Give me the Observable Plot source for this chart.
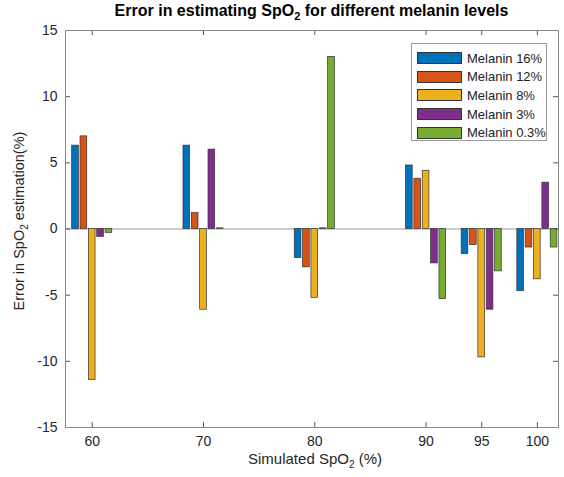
<!DOCTYPE html>
<html><head><meta charset="utf-8">
<script src="https://cdn.jsdelivr.net/npm/d3@7"></script>
<script src="https://cdn.jsdelivr.net/npm/@observablehq/plot@0.6"></script>
<style>
body{margin:0;background:#fff;font-family:"Liberation Sans",Arial,sans-serif;}
#wrap{position:relative;width:564px;height:477px;overflow:hidden;}
#title{height:24px;width:493px;margin-left:65px;text-align:center;font-weight:bold;font-size:16px;line-height:22px;color:#000;white-space:nowrap;}
#title sub{font-size:11px;line-height:0;vertical-align:-4px;}
#chart svg{overflow:visible;}
#legend{position:absolute;left:411px;top:43px;width:136px;height:98px;border:1px solid #999;background:#fff;box-sizing:border-box;padding-top:5px;}
.li{display:flex;align-items:center;height:18.6px;}
.sw{width:45px;height:12px;margin-left:5px;margin-right:5px;box-sizing:border-box;border:1px solid #333;}
.lt{font-size:13px;color:#222;}
</style></head>
<body><div id="wrap">
<div id="title">Error in estimating SpO<sub>2</sub> for different melanin levels</div>
<div id="chart"></div>
<div id="legend"></div>
</div>
<script>
const spo2 = [60, 70, 80, 90, 95, 100];
const seriesNames = ["Melanin 16%", "Melanin 12%", "Melanin 8%", "Melanin 3%", "Melanin 0.3%"];
const melanin16 = [6.3, 6.3, -2.2, 4.8, -1.9, -4.7];
const melanin12 = [7.0, 1.2, -2.9, 3.8, -1.2, -1.4];
const melanin8 = [-11.4, -6.1, -5.2, 4.4, -9.7, -3.8];
const melanin3 = [-0.6, 6.0, 0.05, -2.6, -6.1, 3.5];
const melanin03 = [-0.3, 0.05, 13.0, -5.3, -3.2, -1.4];
const colors = ["#0072BD", "#D95319", "#EDB120", "#7E2F8E", "#77AC30"];
const xTicks = [60, 70, 80, 90, 95, 100];
const yTicks = [-15, -10, -5, 0, 5, 10, 15];

const allSeries = [melanin16, melanin12, melanin8, melanin3, melanin03];
const rows = [];
allSeries.forEach((vals, k) => vals.forEach((v, i) => rows.push({spo2: spo2[i], k, series: seriesNames[k], value: v})));

const groupStep = 0.75, barHalf = 0.3;
const fmt = d => String(d);

const plot = Plot.plot({
  width: 564,
  height: 453,
  marginTop: 6,
  marginBottom: 50,
  marginLeft: 65,
  marginRight: 6,
  style: {fontFamily: "'Liberation Sans', Arial, sans-serif", fontSize: "14px", color: "#262626", background: "#fff", overflow: "visible"},
  x: {domain: [57.6, 101.9], ticks: xTicks},
  y: {domain: [-15, 15], ticks: yTicks},
  color: {domain: seriesNames, range: colors},
  marks: [
    Plot.ruleY([0], {stroke: "#999", strokeWidth: 1}),
    Plot.rect(rows, {
      x1: d => d.spo2 + (d.k - 2) * groupStep - barHalf,
      x2: d => d.spo2 + (d.k - 2) * groupStep + barHalf,
      y1: 0, y2: "value", fill: "series", stroke: "#333", strokeWidth: 0.7
    }),
    Plot.axisX(xTicks, {anchor: "bottom", tickSize: 0, tickPadding: 9, label: null, fontSize: 14, tickFormat: fmt}),
    Plot.axisY(yTicks, {anchor: "left", tickSize: 0, tickPadding: 8, label: null, fontSize: 14, tickFormat: fmt}),
    Plot.tickX(xTicks, {x: d => d, insetTop: 392, stroke: "#555"}),
    Plot.tickX(xTicks, {x: d => d, insetBottom: 392, stroke: "#555"}),
    Plot.tickY(yTicks, {y: d => d, insetRight: 488, stroke: "#555"}),
    Plot.tickY(yTicks, {y: d => d, insetLeft: 488, stroke: "#555"}),
    Plot.frame({stroke: "#888"})
  ]
});
document.getElementById("chart").appendChild(plot);

const svg = d3.select(plot);
const yl = svg.append("text")
  .attr("transform", "translate(24,197) rotate(-90)")
  .attr("text-anchor", "middle")
  .attr("font-size", 14.5)
  .attr("fill", "#262626");
yl.append("tspan").text("Error in SpO");
yl.append("tspan").attr("font-size", 10).attr("dy", 4).text("2");
yl.append("tspan").attr("dy", -4).text(" estimation(%)");

const xl = svg.append("text")
  .attr("x", 315).attr("y", 440)
  .attr("text-anchor", "middle")
  .attr("font-size", 15)
  .attr("fill", "#262626");
xl.append("tspan").text("Simulated SpO");
xl.append("tspan").attr("font-size", 10).attr("dy", 4).text("2");
xl.append("tspan").attr("dy", -4).text(" (%)");

const legend = d3.select("#legend");
seriesNames.forEach((s, k) => {
  const item = legend.append("div").attr("class", "li");
  item.append("div").attr("class", "sw").style("background", colors[k]);
  item.append("span").attr("class", "lt").text(s);
});
</script>
</body></html>
